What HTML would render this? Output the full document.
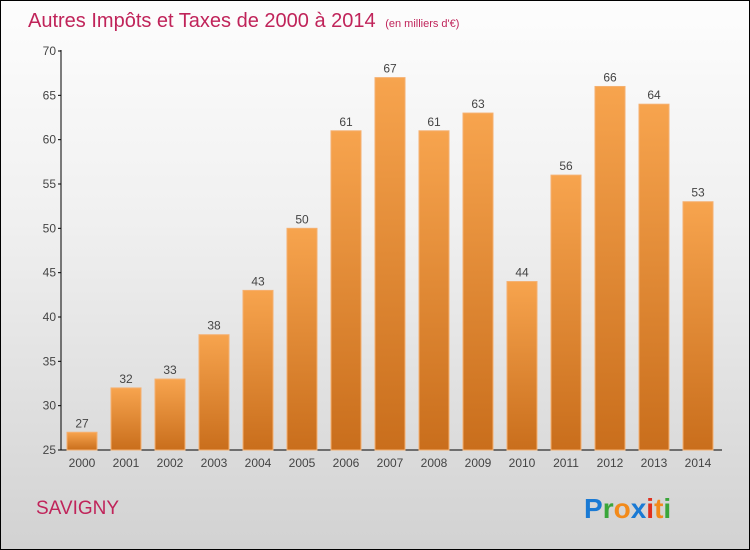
<!DOCTYPE html>
<html><head><meta charset="utf-8"><style>
body{margin:0}
#c{position:relative;width:748px;height:548px;border:1px solid #000;background:linear-gradient(#fdfdfd,#f0f0f0 40%,#d2d2d2);font-family:"Liberation Sans",sans-serif;overflow:hidden}
</style></head><body>
<div id="c">
<svg id="s" width="748" height="548">
<defs><linearGradient id="g" x1="0" y1="0" x2="0" y2="1"><stop offset="0" stop-color="#f7a44e"/><stop offset="1" stop-color="#c96e1c"/></linearGradient></defs>
<text x="27" y="26" font-size="20" fill="#c0245a">Autres Impôts et Taxes de 2000 à 2014 <tspan font-size="11" dx="4">(en milliers d'€)</tspan></text>
<text x="35" y="513" font-size="19" fill="#c0245a">SAVIGNY</text>
<g font-size="28" font-weight="bold">
<text x="583" y="517"><tspan fill="#1a7ad4">P</tspan><tspan fill="#3aa63a">r</tspan><tspan fill="#f28a1a">o</tspan><tspan fill="#1a7ad4">x</tspan><tspan fill="#e0301e">i</tspan><tspan fill="#f28a1a">t</tspan><tspan fill="#3aa63a">i</tspan></text></g>
<g id="plot"></g>
</svg></div>
<script>
const years=["2000","2001","2002","2003","2004","2005","2006","2007","2008","2009","2010","2011","2012","2013","2014"];
const values=[27,32,33,38,43,50,61,67,61,63,44,56,66,64,53];
const ticks=[25,30,35,40,45,50,55,60,65,70];
const ns="http://www.w3.org/2000/svg",p=document.getElementById('plot');
const y=v=>449-(v-25)*(399/45), x=i=>81+i*44;
function mk(t,a,txt){const e=document.createElementNS(ns,t);for(const k in a)e.setAttribute(k,a[k]);if(txt!==undefined)e.textContent=txt;p.appendChild(e);return e;}
let e=mk('line',{x1:60,y1:49,x2:60,y2:449,stroke:'#000'});

e=mk('line',{x1:60,y1:449,x2:721,y2:449,stroke:'#000'});

ticks.forEach(t=>{const l=mk('line',{x1:57,x2:60,y1:y(t),y2:y(t),stroke:'#000'});

const tx=mk('text',{x:55,y:y(t)+4,'text-anchor':'end','font-size':12,fill:'#444'},t);
});
years.forEach((yr,i)=>{const v=values[i];
const r=mk('rect',{x:x(i)-15,y:y(v),width:30,height:449-y(v),fill:'url(#g)',stroke:'#f5b070','stroke-width':1});

const t=mk('text',{x:x(i),y:y(v)-5,'text-anchor':'middle','font-size':12,fill:'#444'},v);

const l=mk('text',{x:x(i),y:466,'text-anchor':'middle','font-size':12,fill:'#444'},yr);
});
</script>
</body></html>
